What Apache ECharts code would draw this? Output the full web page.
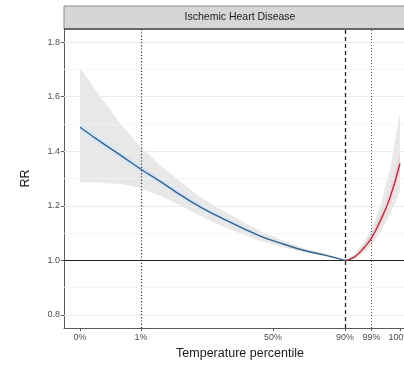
<!DOCTYPE html>
<html>
<head>
<meta charset="utf-8">
<script src="https://cdn.jsdelivr.net/npm/echarts@6/dist/echarts.min.js"></script>
<style>
  html, body { margin: 0; padding: 0; background: #fff; overflow: hidden; }
  #chart { width: 416px; height: 366px; }
</style>
</head>
<body>
<div id="chart"></div>
<script>
// Temperature (°C) at the percentile ticks
const tickTemps = [-6.0, 0.0, 13.0, 20.1, 22.7, 25.5];
const tickLabels = ['0%', '1%', '50%', '90%', '99%', '100%'];

// Reference lines: 1st percentile, minimum-mortality temperature (90%), 99th percentile
const p1Temp = 0.0;
const mmtTemp = 20.1;
const p99Temp = 22.7;

// Y axis
const yTicks = [0.8, 1.0, 1.2, 1.4, 1.6, 1.8];
const yMinorGrid = [0.9, 1.1, 1.3, 1.5, 1.7];
const yMin = 0.752, yMax = 1.848;
const xMin = -7.58, xMax = 27.08;

// Cold side (below MMT)
const coldTemp = [-6, -4, -2, 0, 2, 4, 6, 8, 10, 12, 14, 16, 18, 19, 20.1];
const coldRR   = [1.488, 1.435, 1.385, 1.334, 1.287, 1.237, 1.192, 1.154, 1.118, 1.085, 1.060, 1.037, 1.020, 1.011, 1.000];
const coldLoCI = [1.286, 1.285, 1.280, 1.265, 1.235, 1.198, 1.160, 1.125, 1.095, 1.068, 1.048, 1.030, 1.015, 1.007, 1.000];
const coldHiCI = [1.705, 1.600, 1.500, 1.415, 1.345, 1.285, 1.228, 1.183, 1.142, 1.103, 1.073, 1.045, 1.026, 1.014, 1.000];
const coldLoBand = [1.472, 1.420, 1.371, 1.321, 1.275, 1.227, 1.182, 1.145, 1.110, 1.079, 1.055, 1.033, 1.017, 1.009, 1.000];
const coldHiBand = [1.505, 1.450, 1.399, 1.347, 1.299, 1.249, 1.202, 1.163, 1.126, 1.091, 1.065, 1.041, 1.023, 1.013, 1.000];

// Hot side (above MMT)
const hotTemp = [20.1, 21, 22, 22.7, 23.5, 24.5, 25.5];
const hotRR   = [1.000, 1.012, 1.048, 1.082, 1.140, 1.228, 1.355];
const hotLoCI = [1.000, 1.004, 1.030, 1.055, 1.100, 1.165, 1.250];
const hotHiCI = [1.000, 1.020, 1.070, 1.115, 1.190, 1.330, 1.540];
const hotLoBand = [1.000, 1.005, 1.036, 1.066, 1.118, 1.198, 1.318];
const hotHiBand = [1.000, 1.019, 1.060, 1.098, 1.162, 1.258, 1.392];

const FONT = '"Liberation Sans", Arial, sans-serif';

function ribbon(xs, lo, hi, color, z) {
  return {
    type: 'custom',
    z: z,
    silent: true,
    clip: true,
    data: [[xs[0], lo[0]]],
    renderItem: function (params, api) {
      const pts = [];
      for (let i = 0; i < xs.length; i++) pts.push(api.coord([xs[i], hi[i]]));
      for (let i = xs.length - 1; i >= 0; i--) pts.push(api.coord([xs[i], lo[i]]));
      return { type: 'polygon', shape: { points: pts }, style: { fill: color } };
    }
  };
}

function curve(xs, ys, color) {
  return {
    type: 'line',
    z: 5,
    silent: true,
    smooth: true,
    symbol: 'none',
    lineStyle: { color: color, width: 1.4 },
    data: xs.map((x, i) => [x, ys[i]])
  };
}

const chart = echarts.init(document.getElementById('chart'), null, { renderer: 'canvas' });

chart.setOption({
  animation: false,
  backgroundColor: '#ffffff',
  grid: { left: 64, top: 29, right: 0, bottom: 38 },
  graphic: [
    {
      type: 'rect',
      shape: { x: 64, y: 6, width: 360, height: 23 },
      style: { fill: '#d6d6d6', stroke: '#8c8c8c', lineWidth: 1 },
      z: 10
    },
    {
      type: 'line',
      shape: { x1: 64, y1: 29, x2: 424, y2: 29 },
      style: { stroke: '#4d4d4d', lineWidth: 1.6 },
      z: 11
    },
    {
      type: 'text',
      x: 240, y: 17.5,
      style: {
        text: 'Ischemic Heart Disease',
        font: '10.5px ' + FONT,
        fill: '#1a1a1a',
        align: 'center',
        verticalAlign: 'middle'
      },
      z: 12
    }
  ],
  xAxis: {
    type: 'value',
    min: xMin,
    max: xMax,
    name: 'Temperature percentile',
    nameLocation: 'middle',
    nameGap: 18,
    nameTextStyle: { fontFamily: FONT, fontSize: 12.5, color: '#1a1a1a' },
    axisLine: { show: true, onZero: false, lineStyle: { color: '#5a5a5a', width: 1 } },
    axisTick: { show: true, length: 3, customValues: tickTemps, lineStyle: { color: '#5a5a5a' } },
    axisLabel: {
      customValues: tickTemps,
      formatter: function (v) {
        const i = tickTemps.indexOf(v);
        return i >= 0 ? tickLabels[i] : '';
      },
      fontFamily: FONT, fontSize: 9, color: '#4d4d4d', margin: 5
    },
    splitLine: { show: false }
  },
  yAxis: {
    type: 'value',
    min: yMin,
    max: yMax,
    name: 'RR',
    nameLocation: 'middle',
    nameGap: 32,
    nameTextStyle: { fontFamily: FONT, fontSize: 12.5, color: '#1a1a1a' },
    axisLine: { show: true, onZero: false, lineStyle: { color: '#5a5a5a', width: 1 } },
    axisTick: { show: true, length: 3, customValues: yTicks, lineStyle: { color: '#5a5a5a' } },
    axisLabel: {
      customValues: yTicks,
      formatter: function (v) { return v.toFixed(1); },
      fontFamily: FONT, fontSize: 9, color: '#4d4d4d', margin: 4
    },
    splitLine: { show: false }
  },
  series: [
    // horizontal grid lines
    {
      type: 'line',
      data: [],
      silent: true,
      z: 1,
      markLine: {
        silent: true,
        symbol: 'none',
        label: { show: false },
        animation: false,
        data: yTicks.map(v => ({ yAxis: v, lineStyle: { color: '#ebebeb', width: 1, type: 'solid' } }))
          .concat(yMinorGrid.map(v => ({ yAxis: v, lineStyle: { color: '#f4f4f4', width: 0.8, type: 'solid' } })))
      }
    },
    ribbon(coldTemp, coldLoCI, coldHiCI, '#e8e8e8', 2),
    ribbon(hotTemp, hotLoCI, hotHiCI, '#e8e8e8', 2),
    ribbon(coldTemp, coldLoBand, coldHiBand, '#d7e6f4', 3),
    ribbon(hotTemp, hotLoBand, hotHiBand, '#f5d3d8', 3),
    // reference lines
    {
      type: 'line',
      data: [],
      silent: true,
      z: 4,
      markLine: {
        silent: true,
        symbol: 'none',
        label: { show: false },
        animation: false,
        data: [
          { yAxis: 1.0, lineStyle: { color: '#222222', width: 1.1, type: 'solid' } },
          { xAxis: p1Temp, lineStyle: { color: '#333333', width: 1.2, type: [1.2, 2] } },
          { xAxis: mmtTemp, lineStyle: { color: '#222222', width: 1.3, type: [4, 3] } },
          { xAxis: p99Temp, lineStyle: { color: '#555555', width: 1, type: [1, 2] } }
        ]
      }
    },
    curve(coldTemp, coldRR, '#36628d'),
    curve(hotTemp, hotRR, '#a93644')
  ]
});
</script>
</body>
</html>
